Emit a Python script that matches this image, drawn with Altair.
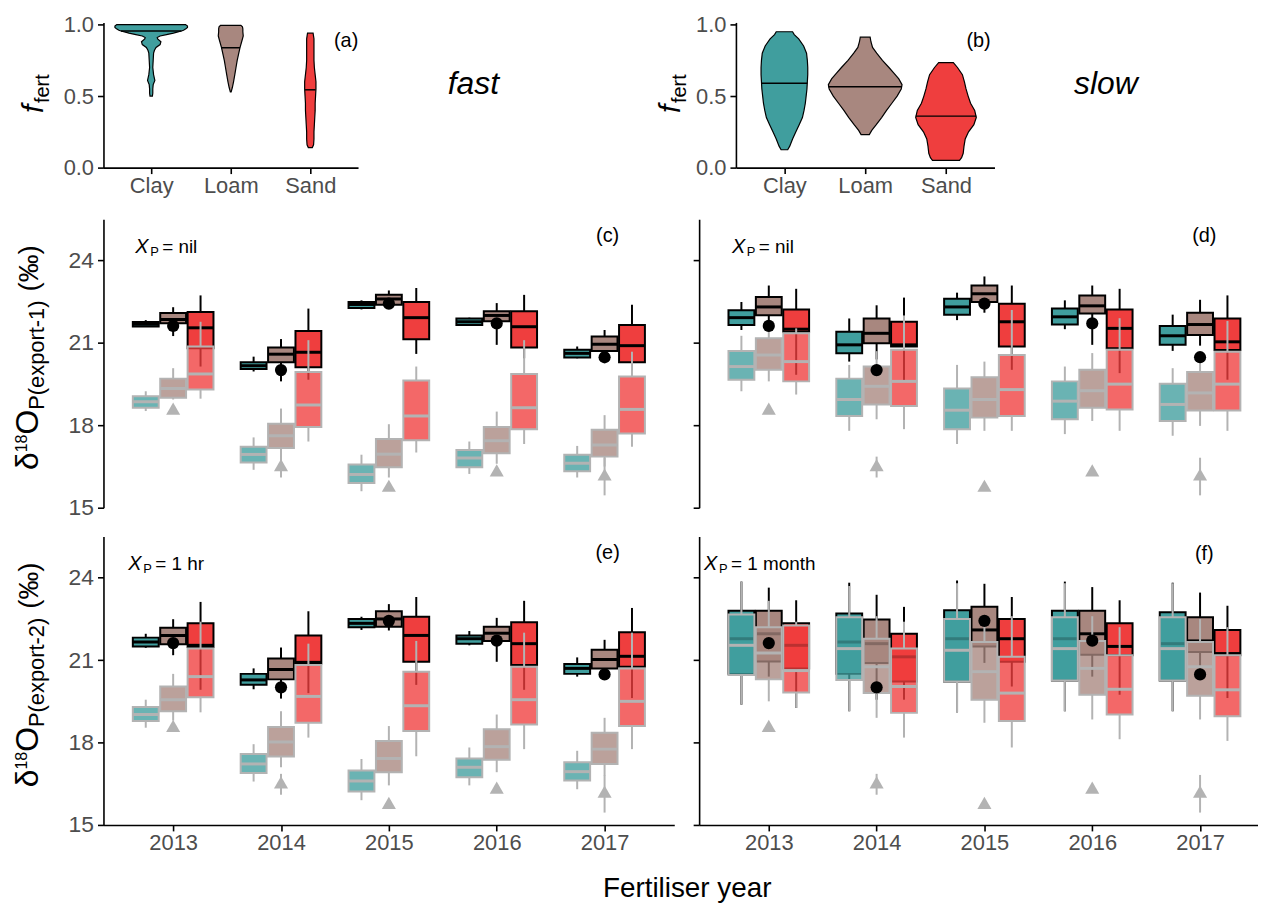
import altair as alt
import pandas as pd

FONT = "Liberation Sans"
YEARS = [2013, 2014, 2015, 2016, 2017]
SOILS = ["Clay", "Loam", "Sand"]
SOIL_COLORS = ["#409E9E", "#A8877F", "#EF3E3E"]
GREY = "#B3B3B3"
LABEL_GREY = "#4D4D4D"

# ---- violin profiles: (f_fert, half width in category units) ----
FAST_CLAY = [(0.50, 0.015), (0.52, 0.020), (0.55, 0.020), (0.58, 0.025), (0.61, 0.046),
             (0.65, 0.030), (0.70, 0.020), (0.75, 0.025), (0.80, 0.030), (0.82, 0.041),
             (0.84, 0.061), (0.86, 0.112), (0.88, 0.122), (0.90, 0.081), (0.91, 0.076),
             (0.92, 0.112), (0.93, 0.193), (0.94, 0.279), (0.955, 0.380), (0.96, 0.406),
             (0.97, 0.436), (0.98, 0.456), (0.99, 0.456), (1.0, 0.431)]
FAST_LOAM = [(0.53, 0.005), (0.56, 0.020), (0.60, 0.035), (0.65, 0.051), (0.70, 0.066),
             (0.75, 0.081), (0.80, 0.101), (0.84, 0.117), (0.88, 0.137), (0.92, 0.157),
             (0.95, 0.152), (0.97, 0.152), (0.985, 0.147), (0.995, 0.127)]
FAST_SAND = [(0.14, 0.025), (0.16, 0.041), (0.20, 0.046), (0.25, 0.046), (0.30, 0.051),
             (0.35, 0.056), (0.40, 0.061), (0.45, 0.061), (0.50, 0.066), (0.55, 0.071),
             (0.60, 0.071), (0.65, 0.061), (0.70, 0.051), (0.75, 0.046), (0.80, 0.046),
             (0.85, 0.046), (0.90, 0.046), (0.94, 0.035)]
SLOW_CLAY = [(0.125, 0.041), (0.15, 0.066), (0.20, 0.101), (0.25, 0.142), (0.30, 0.183),
             (0.35, 0.223), (0.40, 0.243), (0.45, 0.259), (0.50, 0.269), (0.55, 0.279),
             (0.60, 0.284), (0.65, 0.289), (0.70, 0.289), (0.75, 0.284), (0.80, 0.274),
             (0.85, 0.238), (0.90, 0.177), (0.93, 0.122), (0.95, 0.101)]
SLOW_LOAM = [(0.231, 0.051), (0.26, 0.081), (0.30, 0.137), (0.35, 0.203), (0.40, 0.264),
             (0.45, 0.330), (0.50, 0.395), (0.55, 0.446), (0.58, 0.456), (0.62, 0.416),
             (0.66, 0.355), (0.70, 0.294), (0.75, 0.213), (0.80, 0.142), (0.84, 0.091),
             (0.88, 0.071), (0.912, 0.061)]
SLOW_SAND = [(0.051, 0.167), (0.07, 0.193), (0.10, 0.213), (0.15, 0.223), (0.20, 0.238),
             (0.25, 0.279), (0.30, 0.345), (0.35, 0.375), (0.40, 0.355), (0.45, 0.304),
             (0.50, 0.274), (0.55, 0.248), (0.60, 0.228), (0.65, 0.203), (0.70, 0.142),
             (0.734, 0.091)]
FAST_MEDIANS = [(0.955, 0.380), (0.838, 0.117), (0.544, 0.066)]
SLOW_MEDIANS = [(0.59, 0.284), (0.565, 0.456), (0.36, 0.375)]

# ---- boxes: (lo, q1, median, q3, hi), year-major, soil order Clay, Loam, Sand ----
C_DARK = [(21.58, 21.60, 21.68, 21.76, 21.83), (21.25, 21.72, 21.85, 22.09, 22.30), (20.14, 20.81, 21.55, 22.13, 22.73),
          (19.96, 20.05, 20.17, 20.30, 20.50), (19.60, 20.30, 20.59, 20.83, 21.14), (19.66, 20.11, 20.66, 21.43, 22.25),
          (22.22, 22.27, 22.40, 22.49, 22.55), (22.25, 22.39, 22.60, 22.75, 22.91), (20.60, 21.13, 21.92, 22.49, 23.00),
          (21.62, 21.65, 21.77, 21.89, 21.92), (20.93, 21.79, 22.00, 22.15, 22.45), (20.44, 20.83, 21.59, 22.15, 22.75),
          (20.44, 20.47, 20.62, 20.75, 20.87), (20.26, 20.71, 20.95, 21.23, 21.47), (20.00, 20.30, 20.90, 21.65, 22.39)]
C_LIGHT = [(18.52, 18.64, 18.86, 19.06, 19.24), (18.94, 19.00, 19.34, 19.70, 20.08), (18.97, 19.30, 19.87, 20.87, 21.77),
           (16.38, 16.65, 16.94, 17.22, 17.56), (16.80, 17.17, 17.62, 18.06, 18.61), (17.41, 17.94, 18.74, 19.94, 21.10),
           (15.60, 15.90, 16.21, 16.57, 16.93), (16.10, 16.47, 16.95, 17.50, 18.04), (17.01, 17.46, 18.34, 19.63, 20.14),
           (16.23, 16.47, 16.81, 17.10, 17.41), (16.60, 16.98, 17.44, 17.94, 18.50), (17.32, 17.86, 18.64, 19.87, 21.10),
           (16.10, 16.33, 16.62, 16.93, 17.25), (16.50, 16.86, 17.28, 17.84, 18.37), (17.22, 17.70, 18.58, 19.78, 20.68)]
D_DARK = [(21.47, 21.65, 21.92, 22.19, 22.49), (21.41, 22.01, 22.31, 22.67, 23.09), (19.84, 21.41, 21.50, 22.22, 22.97),
          (20.32, 20.62, 20.93, 21.41, 21.89), (20.40, 20.99, 21.35, 21.89, 22.37), (19.60, 20.87, 20.93, 21.77, 22.65),
          (21.83, 22.03, 22.31, 22.61, 22.83), (22.10, 22.49, 22.79, 23.09, 23.42), (20.02, 20.87, 21.77, 22.43, 23.09),
          (21.50, 21.67, 21.95, 22.25, 22.55), (20.93, 22.07, 22.35, 22.73, 23.09), (19.90, 20.81, 21.53, 22.22, 22.97),
          (20.71, 20.93, 21.26, 21.62, 22.03), (20.90, 21.29, 21.67, 22.10, 22.57), (19.66, 20.74, 21.04, 21.89, 22.73)]
D_LIGHT = [(19.24, 19.66, 20.14, 20.71, 21.26), (19.60, 20.02, 20.56, 21.17, 21.53), (19.12, 19.60, 20.32, 21.35, 21.53),
           (17.80, 18.34, 18.94, 19.70, 20.20), (18.22, 18.76, 19.42, 20.14, 20.70), (17.86, 18.70, 19.60, 20.75, 22.00),
           (17.32, 17.86, 18.55, 19.34, 20.20), (17.80, 18.28, 18.94, 19.75, 20.32), (17.80, 18.34, 19.30, 20.56, 22.20),
           (17.68, 18.22, 18.88, 19.60, 20.14), (18.16, 18.64, 19.26, 20.02, 20.63), (17.80, 18.58, 19.50, 20.75, 21.90),
           (17.62, 18.16, 18.76, 19.51, 20.08), (17.98, 18.54, 19.18, 19.94, 20.50), (17.80, 18.54, 19.50, 20.68, 21.80)]
E_DARK = [(21.45, 21.50, 21.66, 21.82, 21.96), (21.18, 21.58, 21.90, 22.18, 22.49), (19.92, 21.48, 21.54, 22.34, 23.12),
          (19.94, 20.10, 20.28, 20.50, 20.70), (19.60, 20.30, 20.66, 21.06, 21.46), (19.80, 20.88, 20.92, 21.90, 22.78),
          (22.10, 22.20, 22.34, 22.50, 22.58), (22.08, 22.22, 22.50, 22.78, 23.04), (20.10, 20.94, 21.90, 22.58, 23.30),
          (21.54, 21.60, 21.78, 21.90, 22.06), (20.94, 21.70, 21.98, 22.22, 22.54), (19.92, 20.82, 21.60, 22.38, 23.16),
          (20.40, 20.50, 20.70, 20.86, 21.10), (20.40, 20.70, 21.02, 21.38, 21.74), (19.62, 20.76, 21.14, 22.02, 22.90)]
E_LIGHT = [(18.54, 18.78, 19.02, 19.29, 19.56), (18.80, 19.14, 19.56, 20.04, 20.50), (19.10, 19.65, 20.40, 21.42, 22.40),
           (16.58, 16.89, 17.22, 17.58, 17.94), (17.10, 17.49, 18.02, 18.57, 19.14), (18.18, 18.72, 19.68, 20.82, 21.60),
           (15.90, 16.22, 16.60, 16.98, 17.40), (16.44, 16.92, 17.42, 18.06, 18.60), (17.50, 18.42, 19.34, 20.58, 21.70),
           (16.44, 16.74, 17.10, 17.42, 17.82), (16.92, 17.37, 17.85, 18.48, 19.02), (17.76, 18.66, 19.56, 20.76, 22.00),
           (16.30, 16.62, 16.94, 17.28, 17.70), (16.80, 17.22, 17.76, 18.36, 18.90), (17.76, 18.60, 19.50, 20.70, 22.00)]
F_DARK = [(19.38, 20.50, 21.78, 22.80, 23.86), (20.40, 20.95, 21.96, 22.80, 23.64), (19.26, 20.70, 21.54, 22.34, 23.18),
          (19.14, 20.50, 21.66, 22.70, 23.82), (19.56, 20.90, 21.60, 22.48, 23.38), (19.56, 20.22, 21.12, 21.96, 22.94),
          (19.10, 20.22, 21.78, 22.82, 23.90), (20.90, 21.50, 22.10, 22.94, 23.78), (20.04, 20.94, 21.78, 22.50, 23.30),
          (19.14, 20.26, 21.78, 22.80, 23.86), (20.40, 21.20, 21.96, 22.80, 23.66), (19.74, 21.18, 21.50, 22.34, 23.18),
          (19.14, 20.26, 21.60, 22.74, 23.82), (20.40, 21.30, 21.70, 22.56, 23.46), (19.62, 21.18, 21.24, 22.10, 22.98)]
F_LIGHT = [(19.38, 20.46, 21.54, 22.66, 23.86), (19.50, 20.30, 21.26, 22.20, 23.16), (19.26, 19.82, 20.62, 22.26, 22.40),
           (19.14, 20.28, 21.42, 22.56, 23.70), (18.90, 19.80, 20.76, 21.78, 22.60), (18.18, 19.08, 20.04, 21.42, 22.40),
           (19.10, 20.22, 21.36, 22.50, 23.80), (18.72, 19.56, 20.58, 21.66, 22.40), (17.82, 18.78, 19.80, 21.12, 22.60),
           (19.14, 20.26, 21.42, 22.56, 23.80), (18.84, 19.74, 20.70, 21.70, 22.60), (18.12, 19.02, 19.94, 21.18, 22.20),
           (19.14, 20.26, 21.42, 22.56, 23.80), (18.84, 19.70, 20.76, 21.66, 22.50), (18.06, 18.96, 19.92, 21.18, 22.20)]

# observed values per year (black dots, grey triangles with occasional range)
OBS_DOT = [21.62, 20.01, 22.43, 21.71, 20.48]
OBS_TRI = [18.61, 16.55, 15.80, 16.36, 16.21]
TRI_LO = [None, 16.10, None, None, 15.45]
TRI_HI = [None, 16.86, None, None, 16.82]

# ---- styling constants ----
DODGE = {"Clay": -0.254, "Loam": 0.0, "Sand": 0.254}   # side-by-side offset (years)
BOX_PX = 26
CHAR_W = {"δ": .556, "1": .556, "8": .556, "2": .556, "O": .778, "P": .667, "(": .333, ")": .333,
          "e": .556, "x": .5, "p": .556, "o": .556, "r": .333, "t": .278, "-": .333, "‰": 1.0,
          "f": .278, " ": .278}


def tw(s, size):
    return sum(CHAR_W.get(c, 0.556) for c in s) * size


def txt(text, x, y, size=20, style="normal", align="left", angle=0, baseline="middle",
        color="black", opacity=1):
    return alt.Chart(alt.Data(values=[{}])).mark_text(
        text=text, font=FONT, fontSize=size, fontStyle=style, align=align,
        baseline=baseline, angle=angle, color=color, opacity=opacity
    ).encode(x=alt.value(x), y=alt.value(y))


def box_frame(panel_rows):
    rows = []
    for layer, data in panel_rows:
        for i, (lo, q1, med, q3, hi) in enumerate(data):
            year = YEARS[i // 3]
            soil = SOILS[i % 3]
            rows.append(dict(layer=layer, year=year, soil=soil, pos=year + DODGE[soil],
                             lo=lo, q1=q1, med=med, q3=q3, hi=hi))
    return pd.DataFrame(rows)


obs = pd.DataFrame({"year": YEARS, "pos": [y + DODGE["Loam"] for y in YEARS],
                    "dot": OBS_DOT, "tri": OBS_TRI, "tlo": TRI_LO, "thi": TRI_HI})

axis_common = dict(domainColor="black", domainWidth=1.6, tickColor="black", tickWidth=1.6,
                   labelColor=LABEL_GREY, labelFont=FONT, grid=False, title=None)

TITLE_X = -66


def box_panel(df, width, xmax, bottom_axis, left_labels, extra):
    xs = alt.Scale(domain=[2012.4, xmax], nice=False, zero=False)
    ys = alt.Scale(domain=[15, 25.5], nice=False, zero=False)
    xaxis = alt.Axis(values=YEARS, format="d", labelFontSize=22, tickSize=6, labelPadding=2,
                     **axis_common) if bottom_axis else None
    yaxis = alt.Axis(values=[15, 18, 21, 24], labels=left_labels, labelFontSize=23, tickSize=6,
                     labelPadding=4, **axis_common)

    def X():
        return alt.X("pos:Q", scale=xs, axis=xaxis)

    def Y(f):
        return alt.Y(f"{f}:Q", scale=ys, axis=yaxis)

    fill = alt.Fill("soil:N", scale=alt.Scale(domain=SOILS, range=SOIL_COLORS), legend=None)
    dark = alt.Chart(df[df.layer == "dark"])
    light = alt.Chart(df[df.layer == "light"])
    layers = [
        dark.mark_rule(color="black", strokeWidth=2).encode(x=X(), y=Y("lo"), y2="q1:Q"),
        dark.mark_rule(color="black", strokeWidth=2).encode(x=X(), y=Y("q3"), y2="hi:Q"),
        dark.mark_bar(size=BOX_PX, stroke="black", strokeWidth=2, opacity=1).encode(
            x=X(), y=Y("q1"), y2="q3:Q", fill=fill),
        dark.mark_tick(orient="horizontal", size=BOX_PX, thickness=3, color="black", opacity=1).encode(
            x=X(), y=Y("med")),
        light.mark_rule(color=GREY, strokeWidth=2).encode(x=X(), y=Y("lo"), y2="q1:Q"),
        light.mark_rule(color=GREY, strokeWidth=2).encode(x=X(), y=Y("q3"), y2="hi:Q"),
        light.mark_bar(size=BOX_PX, stroke=GREY, strokeWidth=2, fillOpacity=0.78).encode(
            x=X(), y=Y("q1"), y2="q3:Q", fill=fill),
        light.mark_tick(orient="horizontal", size=BOX_PX, thickness=3, color=GREY, opacity=1).encode(
            x=X(), y=Y("med")),
        alt.Chart(obs).transform_filter("isValid(datum.tlo)").mark_rule(color=GREY, strokeWidth=2).encode(
            x=X(), y=Y("tlo"), y2="thi:Q"),
        alt.Chart(obs).mark_point(shape="triangle-up", filled=True, color=GREY, size=200, opacity=1).encode(
            x=X(), y=Y("tri")),
        alt.Chart(obs).mark_circle(color="black", size=150, opacity=1).encode(x=X(), y=Y("dot")),
    ]
    return alt.layer(*(layers + extra)).properties(width=width, height=290)


def xp_label(x, rest):
    return [txt("X", x, 28, size=20, style="italic"),
            txt("P", x + 15, 33, size=13),
            txt(rest, x + 27, 28, size=19)]


def delta_title(sub, panel_h=290):
    segs = [("δ", 32, 0, 0), ("18", 16, -10.5, 0), ("O", 32, 0, 0), (sub, 22, 6, 0),
            ("(‰)", 28, 0, tw(" ", 32))]
    total = sum(tw(s, sz) + gap for s, sz, _, gap in segs)
    y = panel_h / 2 + total / 2 - 6
    out = []
    for s, sz, dx, gap in segs:
        y -= gap
        out.append(txt(s, TITLE_X + dx, y, size=sz, angle=270, baseline="alphabetic"))
        y -= tw(s, sz)
    return out


def violin_panel(profiles, medians, width, letter, word, fx, anchors):
    rows, mrows = [], []
    for k, (soil, prof) in enumerate(zip(SOILS, profiles)):
        for v, w in prof:
            rows.append({"soil": soil, "v": v, "xl": k - w, "xr": k + w})
        mv, mw = medians[k]
        mrows.append({"soil": soil, "v": mv, "xl": k - mw, "xr": k + mw})
    xs = alt.Scale(domain=[-0.6, 2.6], nice=False, zero=False)
    ys = alt.Scale(domain=[0, 1.015], nice=False, zero=False)
    xaxis = alt.Axis(values=[0, 1, 2], labelExpr="['Clay','Loam','Sand'][datum.value]",
                     labelFontSize=22, tickSize=6, labelPadding=2, **axis_common)
    yaxis = alt.Axis(values=[0, 0.5, 1.0], format=".1f", labelFontSize=22, tickSize=6,
                     labelPadding=4, **axis_common)
    area = alt.Chart(pd.DataFrame(rows)).mark_area(
        orient="horizontal", stroke="black", strokeWidth=1.2, opacity=1
    ).encode(
        x=alt.X("xl:Q", scale=xs, axis=xaxis), x2="xr:Q",
        y=alt.Y("v:Q", scale=ys, axis=yaxis),
        fill=alt.Fill("soil:N", scale=alt.Scale(domain=SOILS, range=SOIL_COLORS), legend=None),
        detail="soil:N",
    )
    med = alt.Chart(pd.DataFrame(mrows)).mark_rule(color="black", strokeWidth=1.5).encode(
        x=alt.X("xl:Q", scale=xs, axis=xaxis), x2="xr:Q", y=alt.Y("v:Q", scale=ys, axis=yaxis))
    texts = [
        txt(letter, 244, 19, size=20, align="center"),
        txt(word, 372, 62, size=32, style="italic", align="center"),
        txt("f", fx, 91, size=30, style="italic", angle=270, baseline="alphabetic"),
        txt("fert", fx + 6, 81, size=20, angle=270, baseline="alphabetic"),
    ]
    if anchors:
        # invisible glyphs at the lower rows' title offset keep all rows' left edges aligned
        texts += [txt("δ", TITLE_X, 140, size=32, angle=270, baseline="alphabetic", opacity=0),
                  txt("18", TITLE_X - 10.5, 120, size=16, angle=270, baseline="alphabetic", opacity=0)]
    return alt.layer(area, med, *texts).properties(width=width, height=146)


panel_a = violin_panel([FAST_CLAY, FAST_LOAM, FAST_SAND], FAST_MEDIANS, 256, "(a)", "fast", -61, True)
panel_b = violin_panel([SLOW_CLAY, SLOW_LOAM, SLOW_SAND], SLOW_MEDIANS, 260, "(b)", "slow", -56, False)

XMAX_L = 2017.6
XMAX_R = 2012.4 + 562 / (574 / 5.2)

panel_c = box_panel(box_frame([("dark", C_DARK), ("light", C_LIGHT)]), 574, XMAX_L, False, True,
                    xp_label(32, "= nil") + [txt("(c)", 507, 17, size=20, align="center")]
                    + delta_title("P(export-1)"))
panel_d = box_panel(box_frame([("dark", D_DARK), ("light", D_LIGHT)]), 562, XMAX_R, False, False,
                    xp_label(33, "= nil") + [txt("(d)", 508, 17, size=20, align="center")])
panel_e = box_panel(box_frame([("dark", E_DARK), ("light", E_LIGHT)]), 574, XMAX_L, True, True,
                    xp_label(25, "= 1 hr") + [txt("(e)", 507, 17, size=20, align="center")]
                    + delta_title("P(export-2)")
                    + [txt("Fertiliser year", 587, 362, size=28, align="center", baseline="alphabetic")])
panel_f = box_panel(box_frame([("dark", F_DARK), ("light", F_LIGHT)]), 562, XMAX_R, True, False,
                    xp_label(5, "= 1 month") + [txt("(f)", 508, 18, size=20, align="center")])

row1 = alt.hconcat(panel_a, panel_b, spacing=380, bounds="flush")
row2 = alt.hconcat(panel_c, panel_d, spacing=25, bounds="flush")
row3 = alt.hconcat(panel_e, panel_f, spacing=25, bounds="flush")
lower = alt.vconcat(row2, row3, spacing=17)

chart = alt.vconcat(row1, lower, spacing=23).properties(
    padding={"left": 4, "top": 3, "right": 0, "bottom": 0}
).configure(font=FONT).configure_view(stroke=None)

chart.save("out.html", embed_options={"renderer": "svg", "actions": False})
